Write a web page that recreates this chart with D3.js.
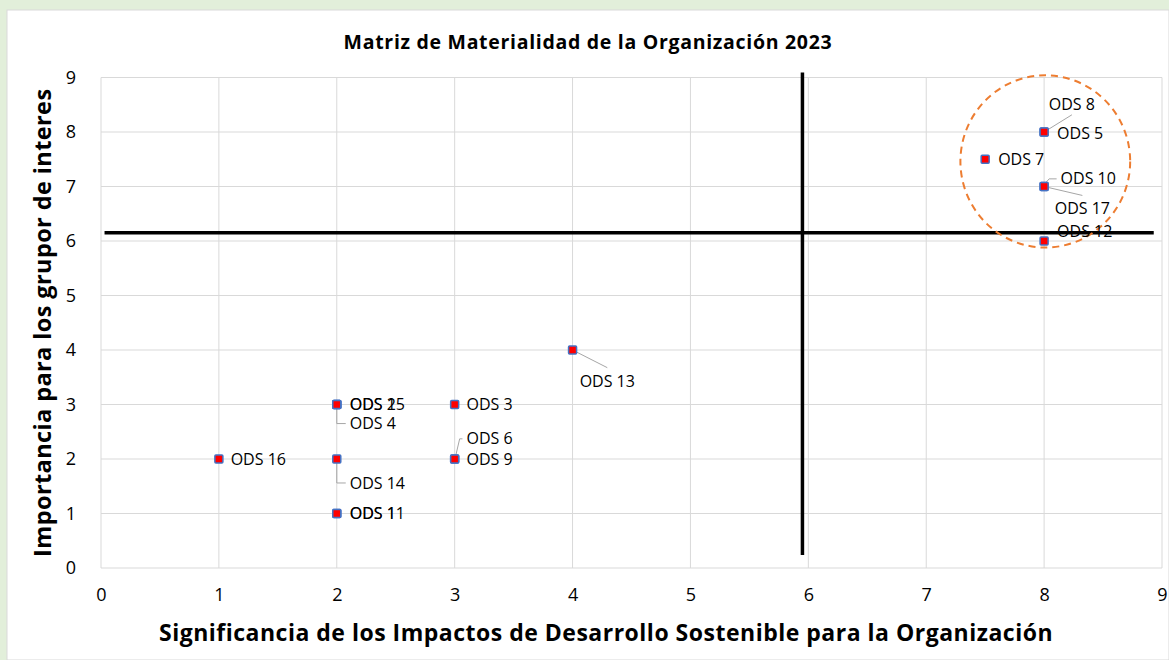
<!DOCTYPE html>
<html>
<head>
<meta charset="utf-8">
<script src="https://cdn.jsdelivr.net/npm/d3@7"></script>
<style>
  body { margin: 0; background: #e2efda; }
  svg { display: block; font-family: "Open Sans", "Liberation Sans", sans-serif; }
</style>
</head>
<body>
<svg id="chart" width="1169" height="660"></svg>
<script>
// ODS points: x = significancia, y = importancia
const odsNames = ["ODS 16", "ODS 15", "ODS 2", "ODS 4", "ODS 14", "ODS 11", "ODS 1", "ODS 3", "ODS 6", "ODS 9", "ODS 13", "ODS 8", "ODS 5", "ODS 7", "ODS 10", "ODS 17", "ODS 12"];
const odsX = [1, 2, 2, 2, 2, 2, 2, 3, 3, 3, 4, 8, 8, 7.5, 8, 8, 8];
const odsY = [2, 3, 3, 3, 2, 1, 1, 3, 2, 2, 4, 8, 8, 7.5, 7, 7, 6];

// where each label sits (data units: text start, text middle) and how its leader is drawn
const labelX = [1.10, 2.11, 2.11, 2.11, 2.11, 2.11, 2.11, 3.10, 3.10, 3.10, 4.06, 8.04, 8.11, 7.61, 8.14, 8.09, 8.11];
const labelY = [2, 3, 3, 2.65, 1.56, 1, 1, 3, 2.37, 2, 3.43, 8.51, 7.98, 7.5, 7.14, 6.59, 6.17];
const leader = ["", "", "", "elbow", "elbow", "", "", "", "elbow", "", "diag", "diag", "", "", "elbow", "diag", ""];

// quadrant dividers and the highlight circle
const hLine = { y: 6.15, x0: 0.03, x1: 8.93 };
const vLine = { x: 5.95, y0: 0.24, y1: 9.09 };
const highlight = { x: 8.01, y: 7.46, rx: 0.72, ry: 1.58 };

const xTicks = d3.range(0, 10);
const yTicks = d3.range(0, 10);

const title = "Matriz de Materialidad de la Organización 2023";
const xTitle = "Significancia de los Impactos de Desarrollo Sostenible para la Organización";
const yTitle = "Importancia para los grupor de interes";

const svg = d3.select("#chart");
const margin = { top: 77.5, right: 7, bottom: 92, left: 101 };
const W = 1169, H = 660;
const w = W - margin.left - margin.right;
const h = H - margin.top - margin.bottom;

svg.append("rect").attr("x", 7).attr("y", 10).attr("width", W - 7).attr("height", H - 10)
  .attr("fill", "#fff").attr("stroke", "#d9d9d9");

const x = d3.scaleLinear().domain([0, 9]).range([0, w]);
const y = d3.scaleLinear().domain([0, 9]).range([h, 0]);

const g = svg.append("g").attr("transform", `translate(${margin.left},${margin.top})`);

// grid
g.append("g").selectAll("line").data(xTicks).join("line")
  .attr("x1", d => x(d)).attr("x2", d => x(d)).attr("y1", 0).attr("y2", h)
  .attr("stroke", "#d9d9d9").attr("stroke-width", 1);
g.append("g").selectAll("line").data(yTicks).join("line")
  .attr("y1", d => y(d)).attr("y2", d => y(d)).attr("x1", 0).attr("x2", w)
  .attr("stroke", "#d9d9d9").attr("stroke-width", 1);

// axes (labels only)
const xAxis = g.append("g").attr("transform", `translate(0,${h})`)
  .call(d3.axisBottom(x).tickValues(xTicks).tickSize(0).tickPadding(20));
const yAxis = g.append("g")
  .call(d3.axisLeft(y).tickValues(yTicks).tickSize(0).tickPadding(25));
[xAxis, yAxis].forEach(a => {
  a.select(".domain").remove();
  a.selectAll("text").attr("font-size", 18).attr("fill", "#000")
    .attr("font-family", "'Open Sans', sans-serif");
});

// quadrant lines
g.append("line")
  .attr("x1", x(hLine.x0)).attr("x2", x(hLine.x1)).attr("y1", y(hLine.y)).attr("y2", y(hLine.y))
  .attr("stroke", "#000").attr("stroke-width", 3.5);
g.append("line")
  .attr("x1", x(vLine.x)).attr("x2", x(vLine.x)).attr("y1", y(vLine.y1)).attr("y2", y(vLine.y0))
  .attr("stroke", "#000").attr("stroke-width", 3.5);

// highlight circle
g.append("ellipse")
  .attr("cx", x(highlight.x)).attr("cy", y(highlight.y))
  .attr("rx", x(highlight.rx) - x(0)).attr("ry", y(0) - y(highlight.ry))
  .attr("fill", "none").attr("stroke", "#ed7d31").attr("stroke-width", 2)
  .attr("stroke-dasharray", "7,5");

const pts = odsNames.map((name, i) => ({ name, x: odsX[i], y: odsY[i], lx: labelX[i], ly: labelY[i], leader: leader[i] }));

const lead = g.append("g");

// labels
const labels = g.append("g").selectAll("text").data(pts).join("text")
  .attr("x", d => x(d.lx)).attr("y", d => y(d.ly))
  .attr("dy", "0.35em")
  .attr("font-size", 16).attr("fill", "#000")
  .text(d => d.name);

// leader lines
labels.each(function (d) {
  if (!d.leader) return;
  const b = this.getBBox();
  const px = x(d.x), py = y(d.y);
  let path;
  if (d.leader === "elbow") {
    const ty = y(d.ly);
    path = `M${px},${py}V${ty}H${b.x - 4}`;
    if (d.ly > d.y) path = `M${px + 1},${py - 3}L${px + 5},${ty}H${b.x - 4}`;
  } else {
    const cx = b.x + b.width / 2;
    const ty = d.ly > d.y ? b.y + b.height : b.y - 2;
    path = `M${px},${py}L${cx},${ty}`;
  }
  lead.append("path").attr("d", path).attr("fill", "none")
    .attr("stroke", "#a6a6a6").attr("stroke-width", 1);
});

// markers
g.append("g").selectAll("rect").data(pts).join("rect")
  .attr("x", d => x(d.x) - 4).attr("y", d => y(d.y) - 4)
  .attr("width", 8).attr("height", 8).attr("rx", 1)
  .attr("fill", "#ff0000").attr("stroke", "#4472c4").attr("stroke-width", 1.5);

// titles
svg.append("text").attr("x", 588).attr("y", 49).attr("text-anchor", "middle")
  .attr("font-size", 19.5).attr("letter-spacing", 0.7).attr("font-weight", "bold").text(title);
svg.append("text").attr("x", 606).attr("y", 641).attr("text-anchor", "middle")
  .attr("font-size", 23).attr("letter-spacing", 0.5).attr("font-weight", "bold").text(xTitle);
svg.append("text").attr("transform", `translate(51,${margin.top + h / 2}) rotate(-90)`)
  .attr("text-anchor", "middle").attr("font-size", 23.5).attr("letter-spacing", 0.4)
  .attr("font-weight", "bold").text(yTitle);
</script>
</body>
</html>
